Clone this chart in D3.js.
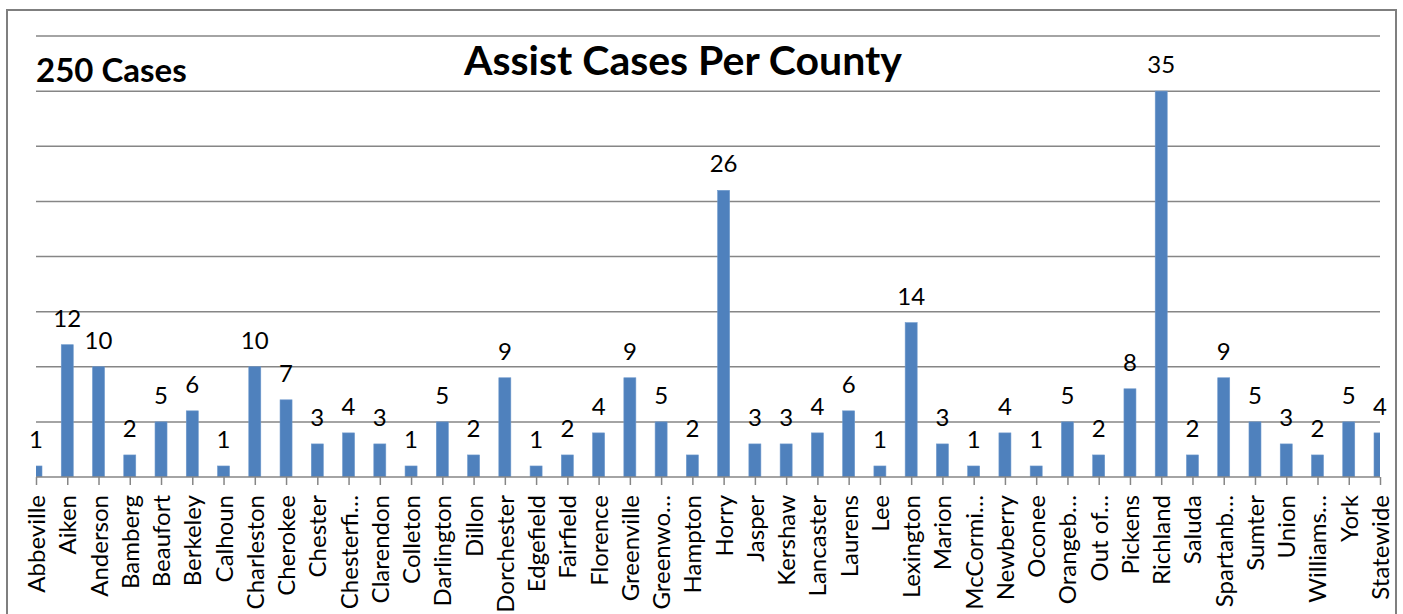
<!DOCTYPE html>
<html><head><meta charset="utf-8">
<script src="https://cdn.jsdelivr.net/npm/d3@7"></script>
<style>body{margin:0;background:#fff;overflow:hidden}</style>
</head><body>
<svg id="chart" width="1403" height="614"></svg>
<script>
const counties = ["Abbeville","Aiken","Anderson","Bamberg","Beaufort","Berkeley","Calhoun","Charleston","Cherokee","Chester","Chesterfi…","Clarendon","Colleton","Darlington","Dillon","Dorchester","Edgefield","Fairfield","Florence","Greenville","Greenwo…","Hampton","Horry","Jasper","Kershaw","Lancaster","Laurens","Lee","Lexington","Marion","McCormi…","Newberry","Oconee","Orangeb…","Out of…","Pickens","Richland","Saluda","Spartanb…","Sumter","Union","Williams…","York","Statewide"];
const cases = [1,12,10,2,5,6,1,10,7,3,4,3,1,5,2,9,1,2,4,9,5,2,26,3,3,4,6,1,14,3,1,4,1,5,2,8,35,2,9,5,3,2,5,4];
const gridTicks = [0,5,10,15,20,25,30,35,40];
const titleText = "Assist Cases Per County";
const totalText = "250 Cases";

const svg = d3.select("#chart");
const font = "Lato, 'Open Sans', sans-serif";
const plotL = 36, plotR = 1380, plotT = 36, plotB = 477;

svg.append("rect").attr("x",7).attr("y",10).attr("width",1389).attr("height",640)
  .attr("fill","#fff").attr("stroke","#7f7f7f").attr("stroke-width",2);

const x = d3.scalePoint().domain(counties).range([plotL, plotR]);
const y = d3.scaleLinear().domain([0,40]).range([plotB, plotT]);

svg.append("g").selectAll("line").data(gridTicks.filter(d=>d>0)).join("line")
  .attr("x1",plotL).attr("x2",plotR).attr("y1",d=>y(d)).attr("y2",d=>y(d))
  .attr("stroke","#868686").attr("stroke-width",1.5);

svg.append("defs").append("clipPath").attr("id","plotclip")
  .append("rect").attr("x",plotL).attr("y",0).attr("width",plotR-plotL).attr("height",plotB);

const bw = 12;
svg.append("g").attr("clip-path","url(#plotclip)").selectAll("rect").data(cases).join("rect")
  .attr("x",(d,i)=>x(counties[i])-bw/2).attr("width",bw)
  .attr("y",d=>y(d)).attr("height",d=>plotB-y(d))
  .attr("fill","#4f81bd").attr("stroke","#6d98cc").attr("stroke-width",0.6);

const xAxis = d3.axisBottom(x).tickSize(8).tickFormat("");
const ag = svg.append("g").attr("transform",`translate(0,${plotB})`).call(xAxis);
ag.select(".domain").attr("stroke","#868686").attr("stroke-width",1.5).attr("d",`M${plotL},0H${plotR}`);
ag.selectAll(".tick line").attr("stroke","#868686").attr("stroke-width",1.5);

svg.append("g").selectAll("text").data(counties).join("text")
  .attr("transform",d=>`translate(${x(d)+9},495) rotate(-90)`)
  .attr("text-anchor","end").attr("font-family",font).attr("font-size",24)
  .attr("fill","#000").text(d=>d);

svg.append("g").selectAll("text").data(cases).join("text")
  .attr("x",(d,i)=>x(counties[i])).attr("y",d=>y(d)-18)
  .attr("text-anchor","middle").attr("font-family",font).attr("font-size",24)
  .attr("fill","#000").text(d=>d);

svg.append("text").attr("x",683).attr("y",75).attr("text-anchor","middle")
  .attr("font-family",font).attr("font-weight","bold").attr("font-size",41)
  .attr("fill","#000").text(titleText);
svg.append("text").attr("x",36).attr("y",82)
  .attr("font-family",font).attr("font-weight","bold").attr("font-size",33)
  .attr("fill","#000").text(totalText);
</script>
</body></html>
